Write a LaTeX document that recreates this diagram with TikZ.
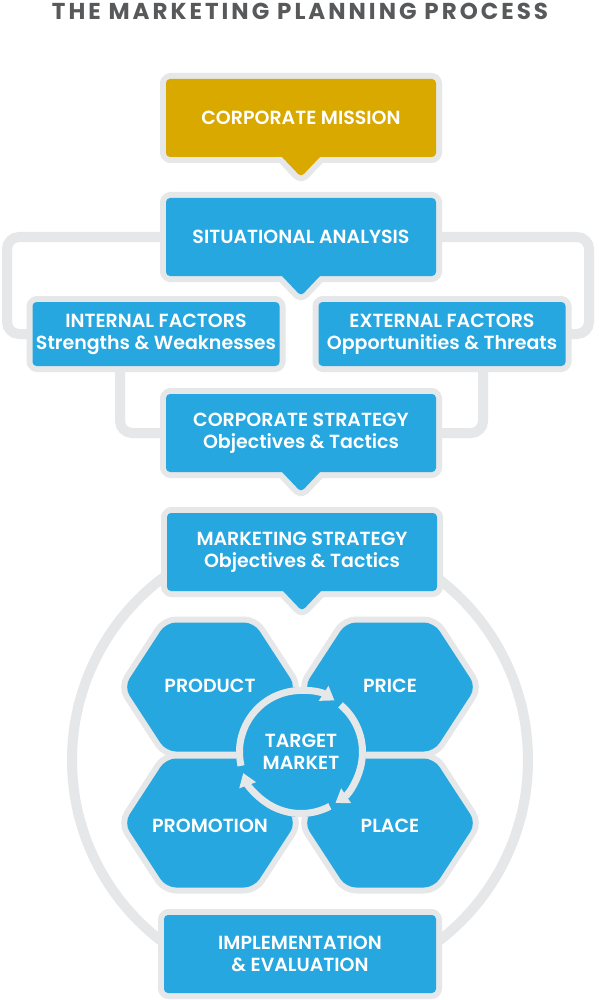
\documentclass[tikz,border=0pt]{standalone}
\usepackage{fontspec}
\setmainfont{Poppins}[BoldFont={Poppins SemiBold}]
\newfontfamily\titlefont{Poppins Bold}[LetterSpace=13]
\usetikzlibrary{shapes.callouts, arrows.meta, backgrounds}

\definecolor{mktblue}{RGB}{38,167,223}
\definecolor{mktgold}{RGB}{218,169,0}
\definecolor{rimgray}{RGB}{230,231,232}
\definecolor{titlegray}{RGB}{88,89,91}

\newcommand{\hexat}[2]{({#1-86},#2) -- ({#1-44},{#2-64.5}) -- ({#1+44},{#2-64.5}) -- ({#1+86},#2) -- ({#1+44},{#2+64.5}) -- ({#1-44},{#2+64.5}) -- cycle}

\tikzset{
  boxtext/.style={text=white, font=\bfseries\fontsize{19}{22}\selectfont, align=center, inner sep=0pt},
  plainbox/.style={rectangle, boxtext, fill=mktblue, rounded corners=4pt,
    minimum width=270pt, minimum height=78pt,
    preaction={draw=rimgray, line width=12pt, line join=round}},
  box/.style={plainbox, rectangle callout, callout relative pointer={(0pt,-20pt)}, callout pointer width=38pt},
  link/.style={draw=rimgray, line width=10pt, rounded corners=12pt},
  hexrim/.style={draw=rimgray, line width=12pt, line join=round, rounded corners=10pt},
  hexfill/.style={fill=mktblue, rounded corners=10pt},
  cyclearrow/.style={draw=rimgray, line width=7pt, -{Triangle[width=17pt, length=13pt]}},
}

\begin{document}
\begin{tikzpicture}[x=1pt, y=-1pt]
  \useasboundingbox (0,0) rectangle (598,1000);

  % outer ring round the marketing mix
  \draw[draw=rimgray, line width=10pt] (300,760) circle [radius=228];

  % the four hexagons
  \path[hexrim] \hexat{210}{687};
  \path[hexrim] \hexat{390}{687};
  \path[hexrim] \hexat{210}{823};
  \path[hexrim] \hexat{390}{823};
  \path[hexfill] \hexat{210}{687};
  \path[hexfill] \hexat{390}{687};
  \path[hexfill] \hexat{210}{823};
  \path[hexfill] \hexat{390}{823};
  \node (product) at (210,686) [boxtext] {PRODUCT};
  \node (price) at (390,686) [boxtext] {PRICE};
  \node (promotion) at (210,826) [boxtext] {PROMOTION};
  \node (place) at (390,826) [boxtext] {PLACE};

  \node (target) at (301,752) [circle, fill=mktblue, minimum size=130pt, boxtext] {TARGET\\MARKET};
  \draw[cyclearrow] (target.center) ++(167:61.5) arc[start angle=167, end angle=303, radius=61.5];
  \draw[cyclearrow] (target.center) ++(310:61.5) arc[start angle=310, end angle=416, radius=61.5];
  \draw[cyclearrow] (target.center) ++(62:61.5) arc[start angle=62, end angle=160, radius=61.5];

  % boxes
  \node (mission) at (301,118) [box, fill=mktgold] {CORPORATE MISSION};
  \node (situation) at (301,237) [box] {SITUATIONAL ANALYSIS};
  \node (internal) at (156,334) [plainbox, minimum width=247pt, minimum height=64pt] {INTERNAL FACTORS\\Strengths \& Weaknesses};
  \node (external) at (442,334) [plainbox, minimum width=247pt, minimum height=64pt] {EXTERNAL FACTORS\\Opportunities \& Threats};
  \node (corporate) at (301,433) [box] {CORPORATE STRATEGY\\Objectives \& Tactics};
  \node (marketing) at (302,552) [box] {MARKETING STRATEGY\\Objectives \& Tactics};
  \node (implement) at (300,954) [plainbox, minimum width=272pt] {IMPLEMENTATION\\\& EVALUATION};

  \node (title) at (300,11) [font=\titlefont\fontsize{23}{26}\selectfont, text=titlegray] {THE MARKETING PLANNING PROCESS};

  % connectors under the boxes
  \coordinate (leftturn) at (7,334);
  \coordinate (rightturn) at (589,334);
  \coordinate (leftdrop) at (120,366);
  \coordinate (rightdrop) at (483,366);
  \begin{scope}[on background layer]
    \fill[white] (0,0) rectangle (598,1000);
    \draw[link] (situation.west) -| (leftturn) -- (internal.west);
    \draw[link] (situation.east) -| (rightturn) -- (external.east);
    \draw[link] (internal.south -| leftdrop) |- (corporate.west);
    \draw[link] (external.south -| rightdrop) |- (corporate.east);
  \end{scope}
\end{tikzpicture}
\end{document}
